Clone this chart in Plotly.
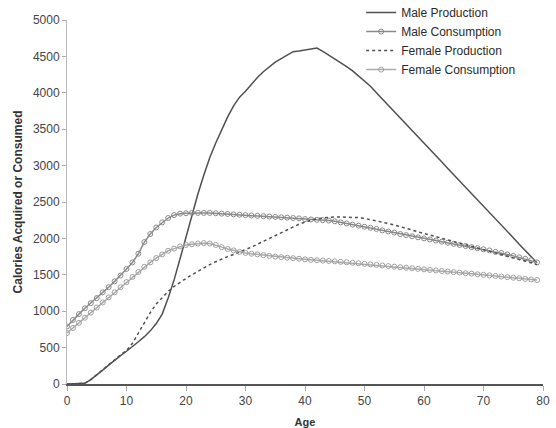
import plotly.graph_objects as go

ages = list(range(0, 80))

male_production = [0, 0, 0, 10, 60, 120, 190, 260, 330, 390,
                   450, 510, 580, 650, 730, 830, 960, 1180, 1430, 1720,
                   2030, 2330, 2610, 2870, 3110, 3310, 3500, 3670, 3820, 3940,
                   4020, 4120, 4210, 4290, 4360, 4420, 4470, 4520, 4565, 4575,
                   4590, 4600, 4615, 4570, 4520, 4470, 4420, 4360, 4300, 4230,
                   4160, 4090, 4000, 3915, 3830, 3740, 3655, 3570, 3480, 3395,
                   3310, 3220, 3135, 3050, 2960, 2875, 2790, 2700, 2615, 2530,
                   2440, 2355, 2270, 2180, 2095, 2010, 1920, 1835, 1750, 1665]

male_consumption = [790, 880, 960, 1040, 1110, 1180, 1260, 1330, 1410, 1490,
                    1580, 1670, 1790, 1950, 2060, 2150, 2220, 2280, 2320, 2340,
                    2345, 2350, 2350, 2350, 2350, 2345, 2340, 2335, 2330, 2325,
                    2320, 2315, 2310, 2305, 2300, 2295, 2290, 2285, 2280, 2275,
                    2265, 2260, 2255, 2250, 2245, 2235, 2220, 2205, 2190, 2175,
                    2160, 2145, 2130, 2110, 2095, 2080, 2060, 2045, 2030, 2015,
                    2000, 1985, 1970, 1955, 1940, 1925, 1910, 1895, 1880, 1865,
                    1850, 1835, 1815, 1800, 1780, 1760, 1740, 1720, 1700, 1670]

female_production = [0, 0, 0, 10, 60, 130, 200, 270, 340, 400,
                     460, 560, 700, 850, 980, 1100, 1190, 1270, 1340, 1400,
                     1450, 1500, 1550, 1600, 1640, 1680, 1720, 1750, 1780, 1810,
                     1840, 1880, 1920, 1960, 2000, 2040, 2080, 2120, 2160, 2195,
                     2225, 2250, 2270, 2280, 2290, 2295, 2295, 2295, 2290, 2285,
                     2275, 2260, 2245, 2225, 2205, 2185, 2165, 2140, 2115, 2090,
                     2070, 2045, 2020, 2000, 1980, 1955, 1935, 1910, 1890, 1870,
                     1845, 1825, 1800, 1780, 1755, 1735, 1710, 1690, 1665, 1640]

female_consumption = [700, 770, 840, 910, 980, 1050, 1120, 1190, 1260, 1330,
                      1400, 1470, 1540, 1610, 1670, 1730, 1780, 1830, 1860, 1890,
                      1910, 1920, 1930, 1935, 1930, 1910, 1880, 1855, 1835, 1815,
                      1800, 1790, 1780, 1770, 1760, 1750, 1742, 1735, 1728, 1720,
                      1712, 1705, 1700, 1695, 1690, 1685, 1678, 1672, 1665, 1658,
                      1650, 1643, 1636, 1628, 1620, 1612, 1605, 1597, 1590, 1582,
                      1575, 1567, 1560, 1552, 1545, 1537, 1530, 1522, 1515, 1507,
                      1500, 1492, 1484, 1476, 1468, 1460, 1452, 1444, 1436, 1428]

x_ticks = [0, 10, 20, 30, 40, 50, 60, 70, 80]
y_ticks = [0, 500, 1000, 1500, 2000, 2500, 3000, 3500, 4000, 4500, 5000]

FONT = "Arial, Liberation Sans, sans-serif"

fig = go.Figure()
fig.add_trace(go.Scatter(
    x=ages, y=male_production, name="Male Production", mode="lines",
    line=dict(color="#505050", width=1.5)))
fig.add_trace(go.Scatter(
    x=ages, y=male_consumption, name="Male Consumption", mode="lines+markers",
    line=dict(color="#8a8a8a", width=1.5),
    marker=dict(symbol="circle-open", size=5, color="#8a8a8a", line=dict(width=1))))
fig.add_trace(go.Scatter(
    x=ages, y=female_production, name="Female Production", mode="lines",
    line=dict(color="#505050", width=1.5, dash="dot")))
fig.add_trace(go.Scatter(
    x=ages, y=female_consumption, name="Female Consumption", mode="lines+markers",
    line=dict(color="#ababab", width=1.5),
    marker=dict(symbol="circle-open", size=5, color="#a0a0a0", line=dict(width=1))))

fig.update_layout(
    width=556, height=428,
    margin=dict(l=67, r=13, t=0, b=44, autoexpand=False),
    paper_bgcolor="white", plot_bgcolor="white",
    font=dict(family=FONT, size=12, color="#444444"),
    showlegend=True,
    legend=dict(x=0.618, y=1.005, xanchor="left", yanchor="top",
                bgcolor="rgba(0,0,0,0)", itemwidth=30, tracegroupgap=0,
                font=dict(size=12, color="#2a2a2a")),
    xaxis=dict(range=[0, 80], tickvals=x_ticks, ticktext=[str(v) for v in x_ticks],
               showgrid=False, zeroline=False, showline=True, linecolor="#555555",
               linewidth=2, ticks="outside", ticklen=5, tickcolor="#aaaaaa",
               automargin=False,
               title=dict(text="<b>Age</b>", font=dict(size=11, color="#333333"), standoff=14)),
    yaxis=dict(range=[0, 5000], domain=[0, 364 / 384], tickvals=y_ticks,
               ticktext=[str(v) for v in y_ticks],
               showgrid=False, zeroline=False, showline=True, linecolor="#bbbbbb",
               linewidth=1, ticks="outside", ticklen=4, tickcolor="#aaaaaa",
               automargin=False,
               title=dict(text="<b>Calories Acquired or Consumed</b>",
                          font=dict(size=12, color="#333333"), standoff=7)),
)

fig.write_html("out.html", config={"displayModeBar": False},
               post_script="document.body.style.margin='0';")
